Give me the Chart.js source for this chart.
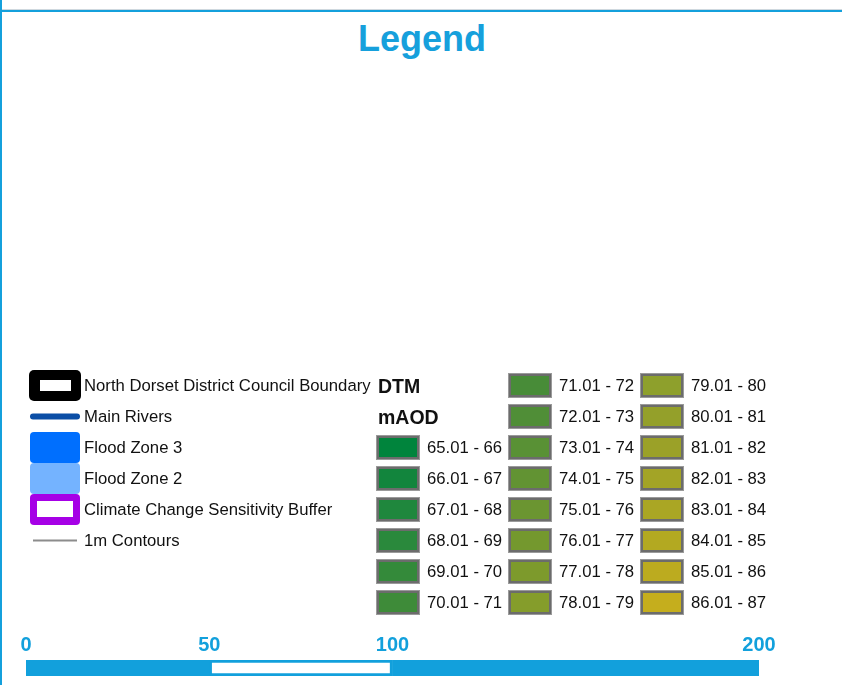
<!DOCTYPE html>
<html>
<head>
<meta charset="utf-8">
<title>Legend</title>
<script src="https://cdn.jsdelivr.net/npm/chart.js@4.4.0/dist/chart.umd.min.js"></script>
<style>
  html, body { margin: 0; padding: 0; background: #fff; }
  body { width: 842px; height: 685px; position: relative; overflow: hidden; font-family: "Liberation Sans", Arial, sans-serif; }
  .line-shadow { position: absolute; left: 0; top: 9px; width: 842px; height: 1px; background: #cfd8de; }
  .line-top { position: absolute; left: 0; top: 10px; width: 842px; height: 2px; background: #14a0dc; }
  .line-left { position: absolute; left: 0; top: 0; width: 2px; height: 685px; background: #14a0dc; }
  h1 { position: absolute; left: 0; top: 21px; width: 844px; margin: 0; text-align: center;
       font: bold 36px/36px "Liberation Sans", Arial, sans-serif; color: #16a0dc; }
  canvas { position: absolute; }
  #leftLegend { left: 0; top: 370px; }
  #dtmLegend { left: 332px; top: 370px; }
  #scaleBar { left: 0; top: 620px; }
</style>
</head>
<body>
<div class="line-shadow"></div>
<div class="line-top"></div>
<div class="line-left"></div>
<h1>Legend</h1>
<canvas id="leftLegend" width="380" height="248"></canvas>
<canvas id="dtmLegend" width="450" height="248"></canvas>
<canvas id="scaleBar" width="842" height="65"></canvas>

<script>
// legend entries
const legendLabels = ['North Dorset District Council Boundary', 'Main Rivers', 'Flood Zone 3',
	'Flood Zone 2', 'Climate Change Sensitivity Buffer', '1m Contours'];

// DTM classes (mAOD)
const dtmHeadings = ['DTM', 'mAOD'];
const dtmClasses = ['65.01 - 66', '66.01 - 67', '67.01 - 68', '68.01 - 69', '69.01 - 70', '70.01 - 71',
	'71.01 - 72', '72.01 - 73', '73.01 - 74', '74.01 - 75', '75.01 - 76', '76.01 - 77', '77.01 - 78',
	'78.01 - 79', '79.01 - 80', '80.01 - 81', '81.01 - 82', '82.01 - 83', '83.01 - 84', '84.01 - 85',
	'85.01 - 86', '86.01 - 87'];
const dtmColours = ['#00843c', '#12853d', '#1f873d', '#2a893c', '#348a3a', '#3e8b39',
	'#488c38', '#508e37', '#599135', '#629333', '#6b9531', '#74982e', '#7d9a2c',
	'#859d2b', '#8ea02c', '#94a02a', '#9ba128', '#a3a426', '#aaa624', '#b3a921',
	'#bcab1f', '#c5ae1d'];

// scale bar
const scaleTicks = [0, 50, 100, 200];
const scaleSegments = [[0, 50], [50, 100], [100, 200]];

const BLUE = '#12a0dc';
const ROWS = 8;
Chart.defaults.font.family = '"Liberation Sans", Arial, sans-serif';

function makeSymbol(w, h, draw) {
	const c = document.createElement('canvas');
	c.width = w;
	c.height = h;
	draw(c.getContext('2d'), w, h);
	return c;
}

function roundBox(ctx, x, y, w, h, r, colour) {
	ctx.fillStyle = colour;
	ctx.beginPath();
	ctx.roundRect(x, y, w, h, r);
	ctx.fill();
}

// symbols for the left hand entries
const legendSymbols = [
	makeSymbol(52, 31, (ctx, w, h) => {
		roundBox(ctx, 0, 0, w, h, 5, '#000');
		ctx.fillStyle = '#fff';
		ctx.fillRect(11, 10, 31, 11);
	}),
	makeSymbol(52, 9, (ctx, w, h) => {
		ctx.strokeStyle = '#0b4ea6';
		ctx.lineWidth = 6;
		ctx.lineCap = 'round';
		ctx.beginPath();
		ctx.moveTo(4, 4.5);
		ctx.lineTo(48, 4.5);
		ctx.stroke();
	}),
	makeSymbol(50, 31, (ctx, w, h) => roundBox(ctx, 0, 0, w, h, 4, '#006ffe')),
	makeSymbol(50, 31, (ctx, w, h) => roundBox(ctx, 0, 0, w, h, 4, '#74b3ff')),
	makeSymbol(50, 31, (ctx, w, h) => {
		roundBox(ctx, 0, 0, w, h, 4, '#a600e6');
		ctx.fillStyle = '#fff';
		ctx.fillRect(7, 7, 36, 16);
	}),
	makeSymbol(46, 3, (ctx, w, h) => {
		ctx.fillStyle = '#8c8c8c';
		ctx.fillRect(1, 0.5, 44, 2);
	})
];

function swatch(colour) {
	return makeSymbol(44, 25, (ctx, w, h) => {
		ctx.fillStyle = '#9a9a9a';
		ctx.fillRect(0, 0, w, h);
		ctx.fillStyle = '#6c6c6c';
		ctx.fillRect(1, 1, w - 2, h - 2);
		ctx.fillStyle = colour;
		ctx.fillRect(3, 3, w - 6, h - 6);
	});
}

// draws the text of each entry next to its point
const textLabels = {
	id: 'textLabels',
	afterDatasetsDraw(chart) {
		const ctx = chart.ctx;
		ctx.save();
		ctx.textBaseline = 'middle';
		ctx.textAlign = 'left';
		chart.data.datasets.forEach((ds, di) => {
			const meta = chart.getDatasetMeta(di);
			ctx.font = ds.textFont;
			ctx.fillStyle = '#111';
			meta.data.forEach((pt, i) => {
				ctx.fillText(ds.texts[i], pt.x + ds.textOffset, pt.y + ds.textShift);
			});
		});
		ctx.restore();
	}
};

const LABEL_FONT = '16.7px "Liberation Sans", Arial, sans-serif';
const HEAD_FONT = 'bold 19.5px "Liberation Sans", Arial, sans-serif';

function gridOptions(cols, padRight) {
	return {
		responsive: false,
		animation: false,
		events: [],
		layout: { autoPadding: false, padding: { left: 0, right: padRight, top: 0, bottom: 0 } },
		plugins: { legend: { display: false }, tooltip: { enabled: false } },
		scales: {
			x: { type: 'linear', display: false, min: -0.5, max: cols - 0.5 },
			y: { type: 'linear', display: false, min: -0.5, max: ROWS - 0.5, reverse: true }
		}
	};
}

function drawLeftLegend() {
	new Chart(document.getElementById('leftLegend'), {
		type: 'scatter',
		data: {
			datasets: [ {
				data: legendLabels.map((t, i) => ({ x: 0, y: i })),
				texts: legendLabels,
				textFont: LABEL_FONT,
				textOffset: 29,
				textShift: 0.5,
				pointStyle: legendSymbols,
				pointRadius: 1,
				clip: false
			} ]
		},
		options: gridOptions(1, 270),
		plugins: [ textLabels ]
	});
}

function drawDtmLegend() {
	// classes fill the columns top to bottom, after the two heading rows
	const slot = i => i + dtmHeadings.length;
	new Chart(document.getElementById('dtmLegend'), {
		type: 'scatter',
		data: {
			datasets: [ {
				data: dtmHeadings.map((t, i) => ({ x: 0, y: i })),
				texts: dtmHeadings,
				textFont: HEAD_FONT,
				textOffset: -20,
				textShift: 2,
				pointRadius: 0
			}, {
				data: dtmClasses.map((t, i) => ({ x: Math.floor(slot(i) / ROWS), y: slot(i) % ROWS })),
				texts: dtmClasses,
				textFont: LABEL_FONT,
				textOffset: 29,
				textShift: 0.5,
				pointStyle: dtmColours.map(swatch),
				pointRadius: 1,
				clip: false
			} ]
		},
		options: gridOptions(3, 54),
		plugins: [ textLabels ]
	});
}

function drawScaleBar() {
	new Chart(document.getElementById('scaleBar'), {
		type: 'bar',
		data: {
			labels: [ 'scale' ],
			datasets: scaleSegments.map((seg, i) => ({
				data: [ seg ],
				backgroundColor: i === 1 ? '#fff' : BLUE,
				borderColor: BLUE,
				borderWidth: i === 1 ? 3 : 0,
				borderSkipped: false,
				grouped: false,
				barPercentage: 1,
				categoryPercentage: 1
			}))
		},
		options: {
			indexAxis: 'y',
			responsive: false,
			animation: false,
			events: [],
			layout: { padding: { left: 26, right: 83, top: 0, bottom: 9 } },
			plugins: { legend: { display: false }, tooltip: { enabled: false } },
			scales: {
				x: {
					type: 'linear',
					position: 'top',
					min: 0,
					max: 200,
					afterBuildTicks: scale => {
						scale.ticks = scaleTicks.map(v => ({ value: v }));
					},
					afterFit: scale => {
						scale.height = 40;
					},
					grid: { display: false, drawTicks: false },
					border: { display: false },
					ticks: {
						color: BLUE,
						padding: 3,
						autoSkip: false,
						maxRotation: 0,
						font: { size: 20, weight: 'bold' }
					}
				},
				y: { display: false }
			}
		}
	});
}

drawLeftLegend();
drawDtmLegend();
drawScaleBar();
</script>
</body>
</html>
